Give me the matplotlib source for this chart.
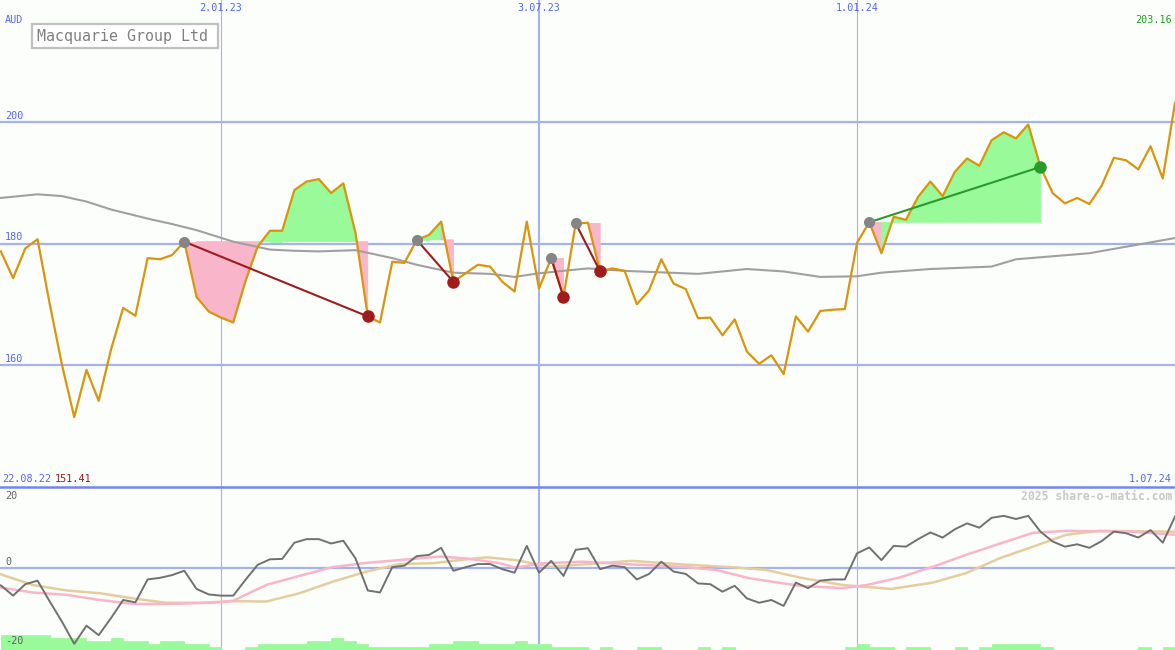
import matplotlib
matplotlib.use("Agg")
import matplotlib.pyplot as plt
import numpy as np
from matplotlib.lines import Line2D
from matplotlib.patches import Rectangle

# weekly closes, week 1 = late Aug 2022, week 97 = 1.07.24
weeks = np.arange(1, 98)
price = [178.7, 174.3, 179.2, 180.7, 170.0, 160.0, 151.41, 159.2, 154.1, 162.5,
         169.4, 168.1, 177.6, 177.4, 178.1, 180.3, 171.2, 168.8, 167.8, 167.0,
         173.8, 179.5, 182.1, 182.1, 188.8, 190.2, 190.6, 188.3, 189.9, 181.7,
         168.0, 167.0, 177.0, 176.8, 180.6, 181.4, 183.6, 173.7, 175.1, 176.5,
         176.2, 173.7, 172.1, 183.6, 172.6, 177.6, 171.2, 183.3, 183.4, 175.4,
         175.9, 175.5, 170.0, 172.3, 177.4, 173.4, 172.5, 167.7, 167.8, 164.9,
         167.5, 162.2, 160.2, 161.6, 158.5, 168.0, 165.5, 168.9, 169.1, 169.2,
         180.1, 183.5, 178.4, 184.4, 183.9, 187.7, 190.2, 187.8, 191.8, 194.0,
         192.8, 197.0, 198.3, 197.3, 199.6, 192.6, 188.3, 186.6, 187.5, 186.5,
         189.5, 194.1, 193.7, 192.2, 196.0, 190.7, 203.16]

# long moving average (grey)
ma_weeks = [1, 4, 6, 8, 10, 13, 15, 17, 20, 23, 25, 27, 30, 33, 35, 38, 41, 43,
            45, 49, 52, 58, 62, 65, 68, 71, 73, 77, 82, 84, 90, 97]
ma_vals = [187.5, 188.1, 187.8, 186.9, 185.6, 184.1, 183.2, 182.2, 180.3, 179.0,
           178.8, 178.7, 178.9, 177.6, 176.5, 175.2, 175.0, 174.5, 175.1, 175.9,
           175.5, 175.0, 175.8, 175.4, 174.5, 174.6, 175.2, 175.8, 176.2, 177.4,
           178.4, 180.9]

# trades: entry week / exit week
trade_entry = [16, 35, 46, 48, 72]
trade_exit = [31, 38, 47, 50, 86]

# lower panel
osc = [-4.4, -7.0, -4.1, -3.2, -8.5, -13.6, -19.2, -14.6, -17.0, -12.7,
       -8.1, -8.7, -2.9, -2.5, -1.8, -0.7, -5.3, -6.7, -7.0, -7.0,
       -3.0, 0.8, 2.2, 2.3, 6.4, 7.3, 7.3, 6.2, 6.9, 2.4,
       -5.7, -6.2, 0.2, 0.6, 3.0, 3.3, 5.1, -0.7, 0.2, 1.0,
       1.0, -0.3, -1.2, 5.6, -1.2, 1.8, -2.0, 4.6, 5.0, -0.3,
       0.6, 0.2, -2.9, -1.5, 1.6, -0.9, -1.5, -3.9, -4.1, -6.0,
       -4.5, -7.7, -8.8, -8.1, -9.6, -3.7, -5.1, -3.2, -2.9, -2.9,
       3.7, 5.2, 2.0, 5.6, 5.4, 7.3, 9.0, 7.7, 9.8, 11.3,
       10.2, 12.7, 13.2, 12.4, 13.2, 9.2, 6.7, 5.4, 6.0, 5.1,
       6.8, 9.2, 8.8, 7.7, 9.6, 6.4, 13.0]

pink_weeks = [0.9, 3.6, 6.4, 9.1, 11.8, 14.5, 18.3, 20.0, 22.7, 25.4, 28.1, 30.9,
              33.6, 36.9, 39.1, 41.8, 43.1, 45.3, 48.6, 52.6, 56.7, 59.5, 62.2,
              66.3, 69.8, 71.8, 74.5, 77.2, 79.9, 82.7, 85.4, 88.1, 93.5, 97.0]
pink_vals = [-4.9, -6.2, -6.8, -8.1, -9.1, -9.1, -8.8, -8.3, -4.3, -2.0, 0.2, 1.3,
             2.0, 2.9, 2.4, 1.2, 0.1, 1.2, 1.6, 0.9, 0.3, -0.5, -2.6,
             -4.5, -5.1, -4.3, -2.4, 0.3, 3.3, 6.2, 8.9, 9.4, 9.2, 8.4]

tan_weeks = [0.9, 3.6, 6.4, 9.1, 11.8, 14.5, 17.3, 20.0, 22.7, 25.4, 28.1, 30.9,
             33.6, 36.3, 39.1, 40.7, 43.1, 45.9, 48.6, 52.6, 56.7, 60.8, 63.6,
             66.3, 69.8, 73.8, 77.2, 79.9, 82.7, 85.4, 88.1, 90.8, 97.0]
tan_vals = [-1.5, -4.3, -5.7, -6.4, -7.7, -8.8, -8.8, -8.4, -8.5, -6.4, -3.5, -0.9,
            1.0, 1.2, 2.2, 2.7, 2.0, 0.3, 0.9, 1.8, 0.9, 0.2, -0.5,
            -2.4, -4.3, -5.3, -3.7, -1.3, 2.5, 5.4, 8.4, 9.4, 9.2]

volume = [5, 5, 5, 5, 4, 4, 4, 3, 3, 4, 3, 3, 2, 3, 3, 2, 2, 1, 0, 0,
          1, 2, 2, 2, 2, 3, 3, 4, 3, 2, 1, 1, 1, 1, 1, 2, 2, 3, 3, 2,
          2, 2, 3, 2, 2, 1, 1, 1, 0, 1, 0, 0, 1, 1, 0, 0, 0, 1, 0, 1,
          0, 0, 0, 0, 0, 0, 0, 0, 0, 1, 2, 1, 1, 0, 1, 1, 0, 0, 1, 0,
          1, 2, 2, 2, 2, 1, 0, 0, 0, 0, 0, 0, 0, 1, 0, 1, 0]

date_weeks = [19, 45, 71]
date_labels = ["2.01.23", "3.07.23", "1.01.24"]
price_ticks = [160, 180, 200]
osc_ticks = [20, 0, -20]

W, H = 1175, 650
BG = "#fcfefc"
GRID = "#a4b2ee"
BLUE = "#5566f0"
PINK = "#f9b5c9"
GREEN = "#98fa98"
FONT = "DejaVu Sans Mono"


def fx(px):
    return px / W


def fy(py):
    return 1 - py / H


fig = plt.figure(figsize=(W / 100, H / 100), dpi=100, facecolor=BG)
ax = fig.add_axes([0, fy(487), 1, 487 / H])
ax2 = fig.add_axes([0, 0, 1, 1 - 487 / H])
for a in (ax, ax2):
    a.set_facecolor(BG)
    a.axis("off")
    a.set_xlim(0.93, 97.0)
ax.set_ylim(139.92, 220.08)
ax2.set_ylim(-20.76, 20.5)

# grid
for t in price_ticks:
    ax.axhline(t, color=GRID, lw=1.6, zorder=1)
ax2.axhline(0, color=GRID, lw=1.6, zorder=1)
for w, lab in zip(date_weeks, date_labels):
    lw = 1.5 if lab.startswith("3.07") else 0.8
    ax.axvline(w, color=GRID, lw=lw, zorder=1)
    ax2.axvline(w, color=GRID, lw=lw, zorder=1)

# trade fills, one quad per week, coloured by the week's close vs entry
p = dict(zip(weeks, price))
for e, x in zip(trade_entry, trade_exit):
    lvl = p[e]
    for i in range(e, x):
        col = GREEN if p[i + 1] > lvl else PINK
        ax.fill([i, i + 1, i + 1, i], [lvl, lvl, p[i + 1], p[i]],
                facecolor=col, edgecolor=col, lw=0.6, zorder=2)

ax.plot(ma_weeks, ma_vals, color="#a0a0a0", lw=1.5, zorder=3)
ax.plot(weeks, price, color="#d9950b", lw=1.6, zorder=4)

for e, x in zip(trade_entry, trade_exit):
    win = p[x] > p[e]
    lc = "#2a9a2a" if win else "#a01c1c"
    ax.plot([e, x], [p[e], p[x]], color=lc, lw=1.5, zorder=5)
    ax.plot(e, p[e], "o", color="#858585", ms=8, mew=0, zorder=6)
    ax.plot(x, p[x], "o", color=lc, ms=9, mew=0, zorder=6)

# lower panel
vol = np.array(volume) * 0.76
ax2.bar(weeks, vol, width=1, align="edge", bottom=-20.76, color=GREEN,
        edgecolor=GREEN, lw=0.5, zorder=2)
ax2.plot(tan_weeks, tan_vals, color="#e5cd9e", lw=1.8, zorder=3)
ax2.plot(pink_weeks, pink_vals, color="#f9b5c9", lw=1.8, zorder=3)
ax2.plot(weeks, osc, color="#707070", lw=1.4, zorder=4)

# separator
fig.add_artist(Line2D([0, 1], [fy(487), fy(487)], transform=fig.transFigure,
                      color="#7585f0", lw=1.8))

# title box
fig.add_artist(Rectangle((fx(32), fy(48)), 186 / W, 24 / H, transform=fig.transFigure,
                         facecolor="white", edgecolor="#c0c0c0", lw=1.6, zorder=10))
fig.text(fx(37), fy(36), "Macquarie Group Ltd", fontsize=10.8, family=FONT,
         color="#808080", va="center", ha="left", zorder=11)

# texts
fs = 7.3
fig.text(fx(5), fy(20), "AUD", fontsize=fs, family=FONT, color=BLUE, va="center")
for w, lab in zip(date_weeks, date_labels):
    px = 12.2308 * w - 11.38
    fig.text(fx(px), fy(8), lab, fontsize=fs, family=FONT, color=BLUE,
             ha="center", va="center")
for t in price_ticks:
    py = 122 + (200 - t) * 6.075
    fig.text(fx(5), fy(py - 6), str(t), fontsize=fs, family=FONT, color=BLUE, va="center")
fig.text(fx(1172), fy(20), "203.16", fontsize=fs, family=FONT, color="#20a020",
         ha="right", va="center")
fig.text(fx(2), fy(479), "22.08.22", fontsize=fs, family=FONT, color=BLUE, va="center")
fig.text(fx(55), fy(479), "151.41", fontsize=fs, family=FONT, color="#a01818", va="center")
fig.text(fx(1172), fy(479), "1.07.24", fontsize=fs, family=FONT, color=BLUE,
         ha="right", va="center")
for t, py in zip(osc_ticks, [496, 562, 641]):
    fig.text(fx(5), fy(py), str(t), fontsize=fs, family=FONT, color="#606060", va="center")
fig.text(fx(1172), fy(496), "2025 share-o-matic.com", fontsize=8.3, family=FONT,
         weight="bold", color="#c8c8c8", ha="right", va="center")

fig.savefig("out.png", dpi=100, facecolor=BG)
